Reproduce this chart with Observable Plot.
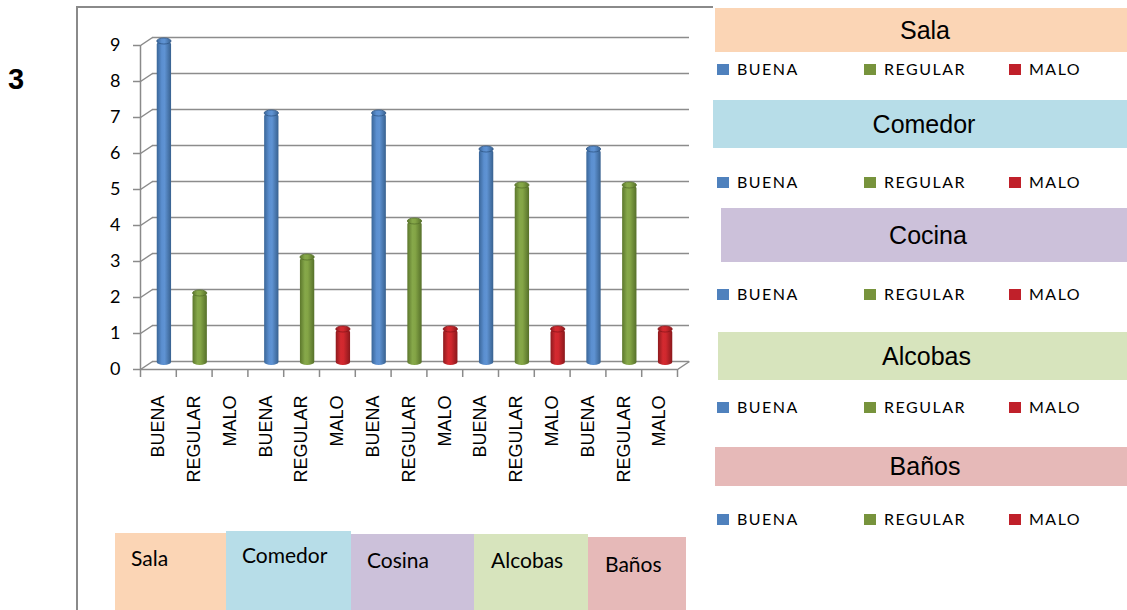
<!DOCTYPE html>
<html>
<head>
<meta charset="utf-8">
<script src="https://cdn.jsdelivr.net/npm/d3@7"></script>
<script src="https://cdn.jsdelivr.net/npm/@observablehq/plot@0.6"></script>
<style>
  body { margin: 0; background: #fff; }
  #wrap { position: relative; width: 1127px; height: 610px; overflow: hidden; font-family: "Liberation Sans", Arial, sans-serif; color: #000; }
  #chart { position: absolute; left: 0; top: 0; }
  .line { position: absolute; background: #8a8a8a; }
  .num { position: absolute; left: 8px; top: 65px; font-weight: bold; font-size: 29px; line-height: 1; }
  .panel { position: absolute; display: flex; align-items: center; justify-content: center; font-size: 25px; }
  .leg { position: absolute; display: flex; align-items: center; font-family: Lato, sans-serif; font-size: 16px; letter-spacing: 1.5px; line-height: 16px; }
  .sw { width: 12px; height: 11px; margin-right: 8px; }
  .box { position: absolute; bottom: 0; }
  .box span { position: absolute; font-family: Lato, sans-serif; font-size: 21px; line-height: 1; white-space: nowrap; }
  g[aria-label="xlabels"] text { letter-spacing: 1.2px; }
</style>
</head>
<body>
<div id="wrap">
  <div class="line" style="left:76px;top:7px;width:2px;height:603px;"></div>
  <div class="line" style="left:76px;top:6px;width:637px;height:2px;"></div>
  <div class="num">3</div>
  <div id="chart"></div>
</div>
<script>
// ---- data ----
const rooms = ["Sala", "Comedor", "Cocina", "Alcobas", "Baños"];
const roomBoxLabels = ["Sala", "Comedor", "Cosina", "Alcobas", "Baños"];
const ratings = ["BUENA", "REGULAR", "MALO"];
const buena = [9, 7, 7, 6, 6];
const regular = [2, 3, 4, 5, 5];
const malo = [0, 1, 1, 1, 1];
const yTicks = [0, 1, 2, 3, 4, 5, 6, 7, 8, 9];

// ---- styles ----
const ratingColors = ["#4F81BD", "#77933C", "#C0202A"];
const ratingDark = ["#2f5585", "#55702a", "#8a151b"];
const gradStops = [
  [["0%", "#3a6698"], ["35%", "#5b8fd0"], ["55%", "#5f93d3"], ["100%", "#38618f"]],
  [["0%", "#5c772c"], ["35%", "#86a84a"], ["55%", "#84a546"], ["100%", "#56702a"]],
  [["0%", "#8e1a1e"], ["35%", "#d42a30"], ["55%", "#d0282e"], ["100%", "#8a181c"]]
];
const roomColors = ["#FBD5B5", "#B7DDE8", "#CCC1DA", "#D7E4BD", "#E6B9B8"];
const axisGray = "#8a8a8a";

const values = [buena, regular, malo];
const data = rooms.flatMap((room, r) =>
  ratings.map((rating, k) => ({room, rating, k, value: values[k][r], i: r * ratings.length + k}))
);
const bars = data.filter(d => d.value > 0);

const W = 700, H = 500, mL = 140, mR = 23, mT = 45, mB = 131;
const nCat = data.length;
const yMax = yTicks[yTicks.length - 1];
const pxX = (W - mL - mR) / nCat, pxY = (H - mT - mB) / yMax;
const depth = {x: 12, y: 8};
const dU = {x: depth.x / pxX, y: depth.y / pxY};
const capU = 3 / pxY;
const barHalf = 0.2;

const capMarks = ratings.map((rating, k) =>
  Plot.rect(bars.filter(d => d.k === k), {
    x1: d => d.i + 0.5 - barHalf, x2: d => d.i + 0.5 + barHalf,
    y1: d => d.value - capU, y2: d => d.value + capU,
    fill: "rating", stroke: ratingDark[k], strokeWidth: 0.8,
    dx: 6, dy: -4, rx: 7, ry: 3
  })
);

const svg = Plot.plot({
  width: W, height: H,
  marginLeft: mL, marginRight: mR, marginTop: mT, marginBottom: mB,
  x: {domain: [0, nCat], axis: null},
  y: {domain: [0, yMax], axis: null},
  color: {type: "ordinal", domain: ratings, range: ratings.map((_, k) => `url(#grad${k})`)},
  style: {background: "transparent", overflow: "visible", fontFamily: "Lato"},
  marks: [
    Plot.ruleY(yTicks, {y: d => d, x1: 0, x2: nCat, dx: depth.x, dy: -depth.y, stroke: "#8c8c8c", strokeWidth: 1.5}),
    Plot.link(yTicks, {x1: 0, y1: d => d, x2: dU.x, y2: d => d + dU.y, stroke: axisGray, strokeWidth: 1.5}),
    Plot.link([0], {x1: nCat, y1: 0, x2: nCat + dU.x, y2: dU.y, stroke: axisGray, strokeWidth: 1.5}),
    Plot.ruleX([0], {x: 0, y1: 0, y2: yMax, stroke: axisGray, strokeWidth: 1.5}),
    Plot.ruleY([0], {y: 0, x1: 0, x2: nCat, stroke: axisGray, strokeWidth: 1.5}),
    Plot.axisY({ticks: yTicks, label: null, tickSize: 7, tickPadding: 13, stroke: axisGray, strokeWidth: 1.5, fill: "#000", fontSize: 18, fontFamily: "Lato"}),
    Plot.axisX({ticks: d3.range(nCat + 1), label: null, tickSize: 8, tickFormat: () => "", stroke: axisGray, strokeWidth: 1.5}),
    Plot.rect(bars, {
      x1: d => d.i + 0.5 - barHalf, x2: d => d.i + 0.5 + barHalf,
      y1: 0, y2: "value", fill: "rating", dx: 6, dy: -4, rx: 7, ry: 3
    }),
    ...capMarks,
    Plot.text(data, {
      x: d => d.i + 0.5, y: 0, text: "rating", rotate: -90,
      textAnchor: "end", lineAnchor: "middle", dy: 26,
      fontSize: 18, fontFamily: "Liberation Sans", fill: "#000", ariaLabel: "xlabels"
    })
  ]
});

const defs = d3.select(svg).insert("defs", ":first-child");
gradStops.forEach((stops, k) => {
  const g = defs.append("linearGradient").attr("id", `grad${k}`)
    .attr("x1", "0").attr("x2", "1").attr("y1", "0").attr("y2", "0");
  stops.forEach(([o, c]) => g.append("stop").attr("offset", o).attr("stop-color", c));
});
document.getElementById("chart").appendChild(svg);

// ---- right-hand panels with legends ----
const wrap = d3.select("#wrap");
const panelBoxes = [
  {left: 715, top: 8, h: 44},
  {left: 713, top: 100, h: 48},
  {left: 721, top: 208, h: 54},
  {left: 718, top: 332, h: 48},
  {left: 715, top: 447, h: 39}
];
const legendRowY = [69, 182, 294, 407, 519];
const legendX = [717, 864, 1009];
rooms.forEach((room, r) => {
  const p = panelBoxes[r];
  wrap.append("div").attr("class", "panel")
    .style("left", p.left + "px").style("top", p.top + "px")
    .style("width", (1135 - p.left) + "px").style("height", p.h + "px")
    .style("background", roomColors[r]).text(room);
  ratings.forEach((rating, k) => {
    const it = wrap.append("div").attr("class", "leg")
      .style("left", legendX[k] + "px").style("top", (legendRowY[r] - 8) + "px");
    it.append("div").attr("class", "sw").style("background", ratingColors[k]);
    it.append("div").text(rating);
  });
});

// ---- bottom room boxes ----
const bottomBoxes = [
  {left: 115, right: 226, top: 533, tx: 131, ty: 566},
  {left: 226, right: 351, top: 531, tx: 242, ty: 563},
  {left: 351, right: 474, top: 534, tx: 367, ty: 568},
  {left: 474, right: 588, top: 534, tx: 491, ty: 568},
  {left: 588, right: 686, top: 537, tx: 605, ty: 572}
];
roomBoxLabels.forEach((label, r) => {
  const b = bottomBoxes[r];
  const box = wrap.append("div").attr("class", "box")
    .style("left", b.left + "px").style("top", b.top + "px")
    .style("width", (b.right - b.left) + "px")
    .style("background", roomColors[r]);
  box.append("span").style("left", (b.tx - b.left) + "px").style("top", (b.ty - b.top - 19) + "px").text(label);
});
</script>
</body>
</html>
